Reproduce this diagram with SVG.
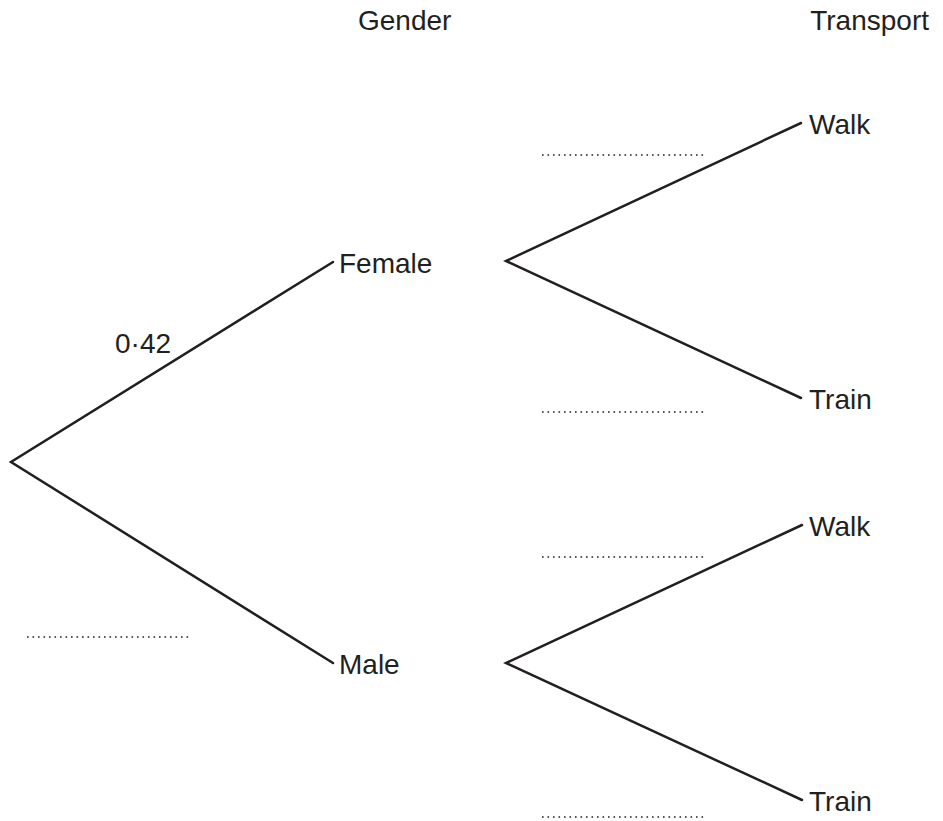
<svg xmlns="http://www.w3.org/2000/svg" width="943" height="821" viewBox="0 0 943 821">
<style>
.t{font-family:"Liberation Sans",Arial,sans-serif;font-size:28px;fill:#231f20}
.h{font-family:"Liberation Sans",Arial,sans-serif;font-size:28px;fill:#231f20}
.br{stroke:#231f20;stroke-width:2.5;fill:none;stroke-linecap:round;stroke-linejoin:miter}
.dot{stroke:#231f20;stroke-width:1.6;stroke-dasharray:1.6 3.9;fill:none}
</style>
<rect width="943" height="821" fill="#fff"/>
<g id="headers">
<text class="h" x="358" y="30">Gender</text>
<text class="h" x="929" y="30" text-anchor="end">Transport</text>
</g>
<g id="connectors">
<polyline class="br" points="333,262 11,462 333,663"/>
<polyline class="br" points="801,123 506,261 801,398"/>
<polyline class="br" points="802,525 506,663 802,800"/>
</g>
<g id="female"><text class="t" x="339" y="273">Female</text></g>
<g id="male"><text class="t" x="339" y="674">Male</text></g>
<g id="walk1"><text class="t" x="809" y="134">Walk</text></g>
<g id="train1"><text class="t" x="809" y="409">Train</text></g>
<g id="walk2"><text class="t" x="809" y="536">Walk</text></g>
<g id="train2"><text class="t" x="809" y="811">Train</text></g>
<g id="labels">
<text class="t" x="115" y="353">0·42</text>
<line class="dot" x1="27" y1="637" x2="189" y2="637"/>
<line class="dot" x1="542" y1="155" x2="704" y2="155"/>
<line class="dot" x1="542" y1="412" x2="704" y2="412"/>
<line class="dot" x1="542" y1="557" x2="704" y2="557"/>
<line class="dot" x1="542" y1="817" x2="704" y2="817"/>
</g>
</svg>
